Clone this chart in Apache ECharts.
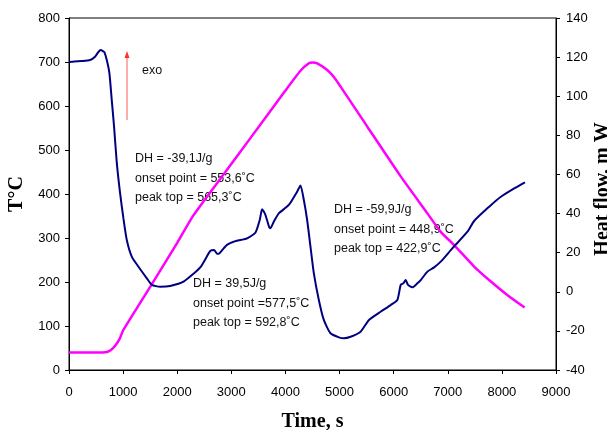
<!DOCTYPE html>
<html>
<head>
<meta charset="utf-8">
<script src="https://cdn.jsdelivr.net/npm/echarts@6/dist/echarts.min.js"></script>
<style>
  html, body { margin: 0; padding: 0; background: #fff; }
  #dscChart { width: 607px; height: 430px; }
</style>
</head>
<body>
<div id="dscChart"></div>
<script>
var dscChart = echarts.init(document.getElementById("dscChart"));

// temperature programme, time s -> T, °C
var tempTime = [0, 620, 700, 780, 860, 940, 1000, 1500, 2000, 2302, 2920, 3352, 3969, 4278, 4432, 4500, 4587, 4772, 4895, 5019, 5513, 6130, 6624, 6870, 7117, 7487, 7796, 8105, 8420];
var tempValue = [40, 40, 41, 46, 56, 72, 90, 189, 289, 352, 455, 527, 630, 680, 697, 699, 697, 682, 666, 644, 553, 440, 356, 314, 284, 235, 201, 170, 142];

// heat flow, time s -> mW
var flowTime = [0, 100, 235, 389, 481, 540, 587, 630, 654, 698, 747, 790, 833, 883, 944, 1006, 1068, 1160, 1284, 1438, 1531, 1685, 1870, 2117, 2426, 2611, 2680, 2735, 2765, 2858, 2920, 3043, 3228, 3290, 3444, 3525, 3568, 3600, 3630, 3700, 3722, 3784, 3877, 4062, 4216, 4278, 4340, 4401, 4463, 4525, 4617, 4709, 4833, 4987, 5080, 5204, 5389, 5543, 5759, 5944, 6068, 6130, 6179, 6222, 6265, 6346, 6438, 6500, 6624, 6747, 6870, 7087, 7364, 7487, 7765, 7981, 8228, 8426];
var flowValue = [117.5, 117.8, 118, 118.5, 120.2, 122.5, 123.6, 123, 122.5, 118.5, 111.7, 98, 84.4, 66, 50.4, 37.5, 26.5, 18, 12.8, 6.9, 3.5, 2.6, 3.0, 5.2, 12.5, 20.9, 21.4, 19.5, 19.5, 22.2, 24, 25.6, 26.8, 27.3, 30.2, 36.7, 42.2, 41, 39.3, 33, 32.5, 35.8, 40.1, 44.4, 51.2, 54.4, 46.9, 36.7, 23, 9.4, -4.2, -14.4, -21.2, -23.3, -23.8, -23, -20.4, -14.4, -10.2, -6.8, -4.2, 3.5, 4.3, 6.0, 3.5, 2.3, 4.3, 6, 10.3, 12.5, 15.4, 22.3, 30.7, 36.2, 43.5, 48.6, 52.9, 56];

var notes = [
    { x: 135, y: 158, lines: ['DH = -39,1J/g', 'onset point = 553,6˚C', 'peak top = 565,3˚C'] },
    { x: 193, y: 283, lines: ['DH = 39,5J/g', 'onset point =577,5˚C', 'peak top = 592,8˚C'] },
    { x: 334, y: 209, lines: ['DH = -59,9J/g', 'onset point = 448,9˚C', 'peak top = 422,9˚C'] }
];

function pairs(xs, ys) {
    return xs.map(function (x, i) { return [x, ys[i]]; });
}

var labelFont = { color: '#000', fontFamily: 'Liberation Sans, Arial', fontSize: 13 };
var nameFont = { color: '#000', fontFamily: 'Liberation Serif, Times New Roman', fontSize: 20, fontWeight: 'bold' };

var noteGraphics = [];
notes.forEach(function (n) {
    noteGraphics.push({
        type: 'text', left: n.x, top: n.y - 9,
        style: { text: n.lines.join('\n'), fill: '#111', font: '12.5px "Liberation Sans", Arial', lineHeight: 19.5 }
    });
});
// exo arrow
noteGraphics.push({ type: 'line', shape: { x1: 127, y1: 120, x2: 127, y2: 56 }, style: { stroke: '#ff5a5a', lineWidth: 1 } });
noteGraphics.push({ type: 'polygon', shape: { points: [[124.5, 58], [129.5, 58], [127, 51]] }, style: { fill: '#ff3030' } });
noteGraphics.push({ type: 'text', left: 142, top: 64, style: { text: 'exo', fill: '#111', font: '12.5px "Liberation Sans", Arial' } });

dscChart.setOption({
    animation: false,
    grid: { left: 69, right: 51, top: 18, bottom: 60, outerBoundsMode: 'none', containLabel: false, show: true, borderColor: '#000', borderWidth: 1 },
    xAxis: {
        type: 'value', min: 0, max: 9000, interval: 1000,
        name: 'Time, s', nameLocation: 'middle', nameGap: 42, nameTextStyle: nameFont,
        axisLine: { lineStyle: { color: '#000' } },
        axisTick: { length: 4, lineStyle: { color: '#000' } },
        axisLabel: Object.assign({ margin: 16, formatter: function (v) { return String(v); } }, labelFont),
        splitLine: { show: false }
    },
    yAxis: [{
        type: 'value', min: 0, max: 800, interval: 100, position: 'left',
        name: 'T°C', nameLocation: 'middle', nameGap: 42, nameRotate: 90, nameTextStyle: nameFont,
        axisLine: { show: true, lineStyle: { color: '#000' } },
        axisTick: { show: true, length: 4, lineStyle: { color: '#000' } },
        axisLabel: Object.assign({ margin: 9 }, labelFont),
        splitLine: { show: false }
    }, {
        type: 'value', min: -40, max: 140, interval: 20, position: 'right',
        name: 'Heat flow, m W', nameLocation: 'middle', nameGap: 37, nameRotate: 90, nameMoveOverlap: false,
        nameTextStyle: Object.assign({ padding: [0, 0, 0, 10] }, nameFont),
        axisLine: { show: true, lineStyle: { color: '#000' } },
        axisTick: { show: true, length: 4, lineStyle: { color: '#000' } },
        axisLabel: Object.assign({ margin: 10 }, labelFont),
        splitLine: { show: false }
    }],
    series: [{
        name: 'T', type: 'line', yAxisIndex: 0, smooth: 0.2, symbol: 'none',
        data: pairs(tempTime, tempValue),
        lineStyle: { color: '#ff00ff', width: 2.5 }
    }, {
        name: 'Heat flow', type: 'line', yAxisIndex: 1, smooth: 0.2, symbol: 'none',
        data: pairs(flowTime, flowValue),
        lineStyle: { color: '#000080', width: 2 }
    }],
    graphic: noteGraphics
});
</script>
</body>
</html>
